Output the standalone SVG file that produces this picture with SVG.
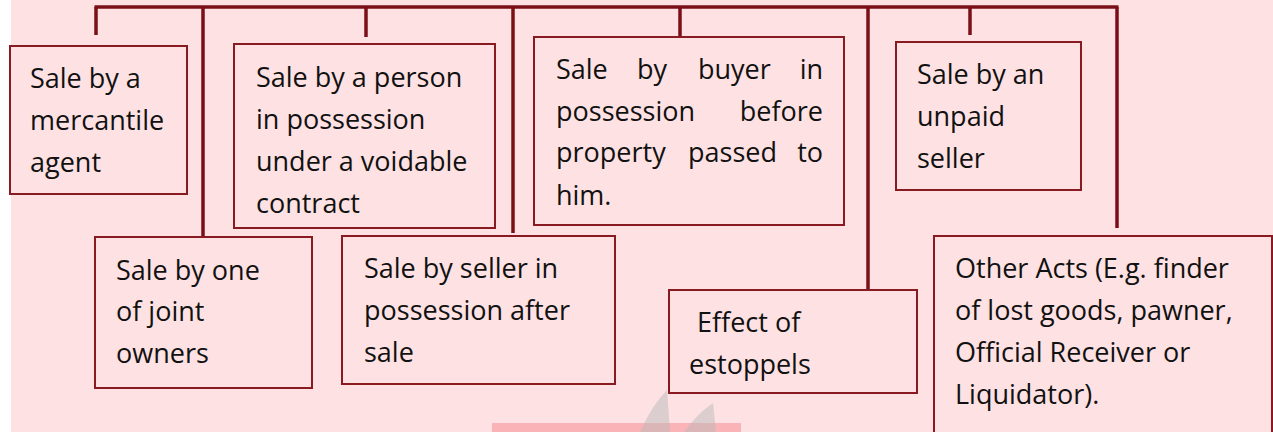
<svg xmlns="http://www.w3.org/2000/svg" width="1273" height="432" viewBox="0 0 1273 432">
  <style>
    .bg { fill: #fee1e3; }
    .box { fill: #fee1e3; stroke: #8a1a22; stroke-width: 2; }
    .conn { stroke: #7a0f17; stroke-width: 3.5; fill: none; stroke-linecap: butt; }
    text { font-family: "Open Sans", "Noto Sans", "DejaVu Sans", sans-serif; font-size: 27px; fill: #111111; }
  </style>
  <rect x="0" y="0" width="1273" height="432" fill="#ffffff"/>
  <rect class="bg" x="11" y="0" width="1262" height="432"/>

  <g id="watermark">
    <rect x="492" y="423" width="249" height="9" fill="#fab3b6"/>
    <path d="M640 432 Q652 405 667 390 L670 432 Z" fill="#b9b9b9" fill-opacity="0.5"/>
    <path d="M684 432 Q697 414 713 403 L716 432 Z" fill="#b9b9b9" fill-opacity="0.5"/>
  </g>

  <g id="connectors">
    <path class="conn" d="M94.5 7 H1118.5"/>
    <path class="conn" d="M96 7 V35"/>
    <path class="conn" d="M203 7 V240"/>
    <path class="conn" d="M366 7 V37"/>
    <path class="conn" d="M513 7 V233"/>
    <path class="conn" d="M680 7 V37"/>
    <path class="conn" d="M868 7 V290"/>
    <path class="conn" d="M970 7 V35"/>
    <path class="conn" d="M1117 7 V228"/>
  </g>

  <g id="node-mercantile-agent">
    <rect class="box" x="10" y="46" width="177" height="148"/>
    <text x="30" y="88">Sale by a</text>
    <text x="30" y="130">mercantile</text>
    <text x="30" y="172">agent</text>
  </g>

  <g id="node-voidable-contract">
    <rect class="box" x="234" y="44" width="261" height="184"/>
    <text x="256" y="87">Sale by a person</text>
    <text x="256" y="129">in possession</text>
    <text x="256" y="171">under a voidable</text>
    <text x="256" y="213">contract</text>
  </g>

  <g id="node-buyer-in-possession">
    <rect class="box" x="534" y="37" width="310" height="188"/>
    <text y="79"><tspan x="556">Sale</tspan><tspan x="637">by</tspan><tspan x="698">buyer</tspan><tspan x="823" text-anchor="end">in</tspan></text>
    <text y="121"><tspan x="556">possession</tspan><tspan x="823" text-anchor="end">before</tspan></text>
    <text y="162"><tspan x="556">property</tspan><tspan x="688">passed</tspan><tspan x="823" text-anchor="end">to</tspan></text>
    <text x="556" y="205">him.</text>
  </g>

  <g id="node-unpaid-seller">
    <rect class="box" x="896" y="42" width="185" height="148"/>
    <text x="917" y="84">Sale by an</text>
    <text x="917" y="126">unpaid</text>
    <text x="917" y="168">seller</text>
  </g>

  <g id="node-joint-owners">
    <rect class="box" x="95" y="237" width="217" height="151"/>
    <text x="116" y="280">Sale by one</text>
    <text x="116" y="321">of joint</text>
    <text x="116" y="363">owners</text>
  </g>

  <g id="node-seller-in-possession">
    <rect class="box" x="342" y="236" width="273" height="148"/>
    <text x="364" y="278">Sale by seller in</text>
    <text x="364" y="320">possession after</text>
    <text x="364" y="362">sale</text>
  </g>

  <g id="node-estoppels">
    <rect class="box" x="669" y="290" width="248" height="103"/>
    <text x="697" y="332">Effect of</text>
    <text x="689" y="374">estoppels</text>
  </g>

  <g id="node-other-acts">
    <rect class="box" x="934" y="236" width="338" height="210"/>
    <text x="955" y="278">Other Acts (E.g. finder</text>
    <text x="955" y="320">of lost goods, pawner,</text>
    <text x="955" y="362">Official Receiver or</text>
    <text x="955" y="404">Liquidator).</text>
  </g>
</svg>
